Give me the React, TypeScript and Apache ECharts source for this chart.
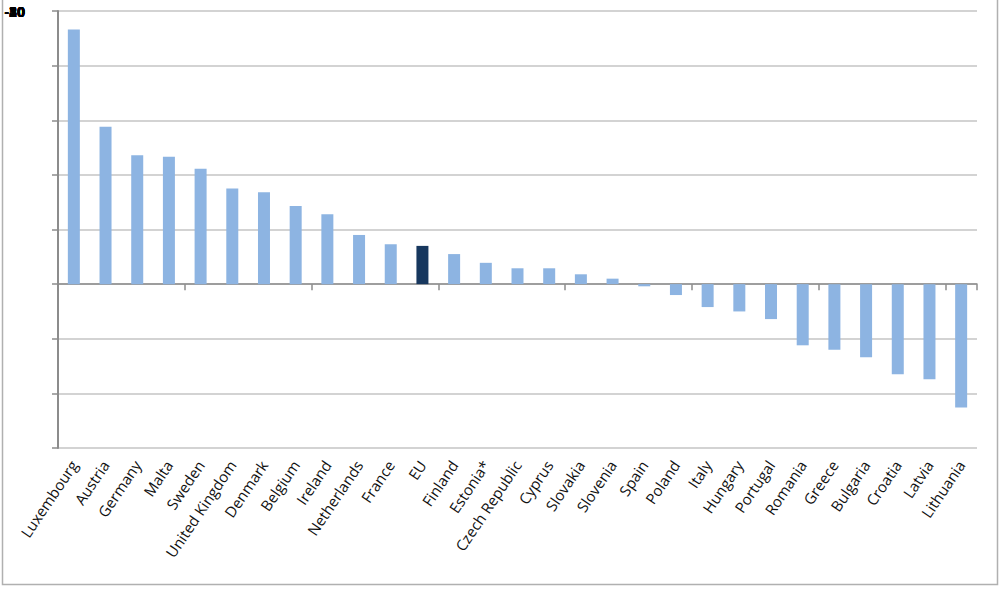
import React, { useEffect, useRef } from "react";
import * as echarts from "echarts";

const categories = [
  "Luxembourg", "Austria", "Germany", "Malta", "Sweden", "United Kingdom", "Denmark",
  "Belgium", "Ireland", "Netherlands", "France", "EU", "Finland", "Estonia*",
  "Czech Republic", "Cyprus", "Slovakia", "Slovenia", "Spain", "Poland", "Italy",
  "Hungary", "Portugal", "Romania", "Greece", "Bulgaria", "Croatia", "Latvia", "Lithuania",
];
const values = [
  46.6, 28.8, 23.6, 23.3, 21.1, 17.5, 16.8, 14.3, 12.8, 9.0, 7.3, 7.0, 5.5, 3.9,
  2.9, 2.9, 1.8, 1.0, -0.4, -2.0, -4.2, -5.0, -6.4, -11.2, -12.0, -13.4, -16.5, -17.4, -22.6,
];
const highlight = "EU";
const yTickLabels = ["50", "40", "30", "20", "10", "0", "-10", "-20", "-30"];
const yMin = -30;
const yMax = 50;
const yInterval = 10;

export default function App() {
  const ref = useRef<HTMLDivElement>(null);
  useEffect(() => {
    if (!ref.current) return;
    const chart = echarts.init(ref.current, null, { renderer: "svg" });
    const font = "'Open Sans', 'Liberation Sans', sans-serif";
    chart.setOption({
      animation: false,
      backgroundColor: "#ffffff",
      grid: { left: 58, right: 23, top: 11, bottom: 144, containLabel: false },
      xAxis: [
        {
          type: "category",
          data: categories,
          axisLine: { onZero: true, lineStyle: { color: "#8c8c8c", width: 1.5 } },
          axisTick: { show: true, length: 6, lineStyle: { color: "#8c8c8c", width: 1.5 } },
          axisLabel: { show: false },
        },
        {
          type: "category",
          data: categories,
          position: "bottom",
          axisLine: { show: false, onZero: false },
          axisTick: { show: false },
          axisLabel: {
            show: true,
            interval: 0,
            rotate: 56,
            margin: 14,
            color: "#111",
            fontFamily: font,
            fontSize: 15,
          },
        },
      ],
      yAxis: {
        type: "value",
        min: yMin,
        max: yMax,
        interval: yInterval,
        axisLine: { show: true, lineStyle: { color: "#8c8c8c", width: 2 } },
        axisTick: { show: true, length: 6, lineStyle: { color: "#8c8c8c", width: 1.5 } },
        axisLabel: { show: false },
        splitLine: { show: true, lineStyle: { color: "#c4c4c4", width: 1.5 } },
      },
      graphic: [
        {
          type: "rect",
          shape: { x: 2.5, y: -5, width: 995, height: 589.5 },
          style: { fill: "none", stroke: "#b0b0b0", lineWidth: 1.5 },
          silent: true,
        },
        ...yTickLabels.map((t) => ({
          type: "text",
          x: 25,
          y: 4,
          style: {
            text: t,
            fill: "#000",
            font: `bold 14px ${font}`,
            align: "right",
            verticalAlign: "top",
          },
          silent: true,
        })),
      ],
      series: [
        {
          type: "bar",
          xAxisIndex: 0,
          barWidth: 12,
          data: values.map((v, i) => ({
            value: v,
            itemStyle: { color: categories[i] === highlight ? "#17375e" : "#8db4e2" },
          })),
        },
      ],
    });
    return () => chart.dispose();
  }, []);
  return (
    <div
      ref={ref}
      style={{ position: "fixed", left: 0, top: 0, width: 1000, height: 592 }}
    />
  );
}
